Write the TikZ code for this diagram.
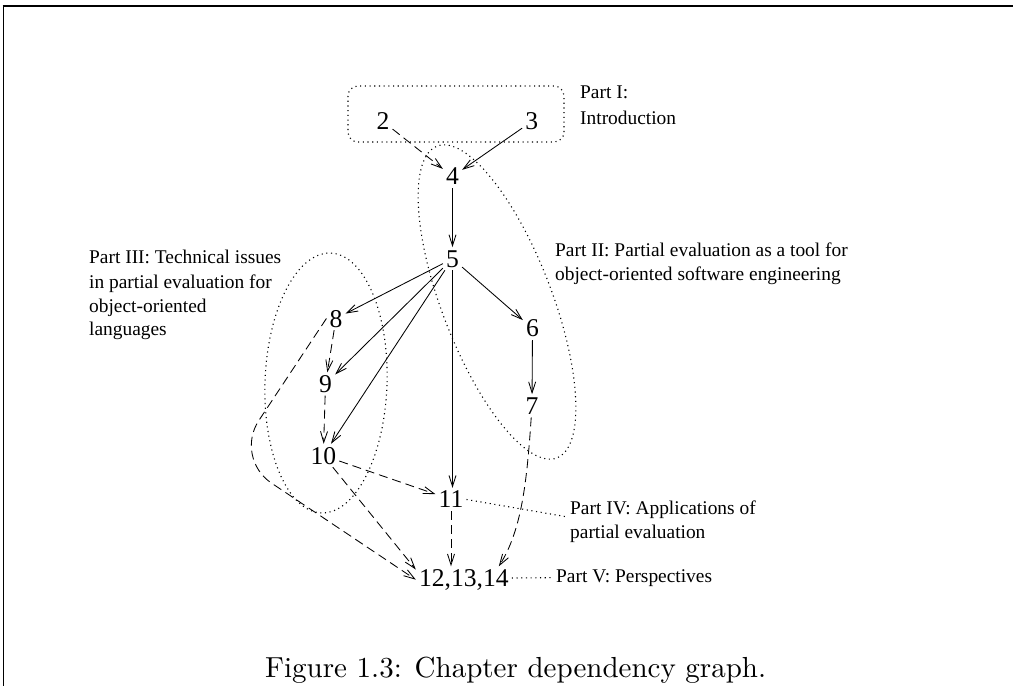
\documentclass[tikz,border=0pt]{standalone}
\usepackage{graphicx}
\usepackage{fontspec}
\newfontfamily\tms{Liberation Serif}
\usetikzlibrary{arrows.meta,calc}
\begin{document}
\begin{tikzpicture}[x=1pt,y=-1pt,
  num/.style={font=\tms\fontsize{25.6}{30}\selectfont, inner sep=3pt, text depth=0pt},
  lbl/.style={font=\tms\fontsize{19.4}{24}\selectfont, inner sep=0pt, anchor=base west},
  link/.style={line width=0.85pt, -{Straight Barb[length=11pt,width=7pt]}},
  dashlink/.style={link, dash pattern=on 9pt off 5pt},
  dotline/.style={line width=1.1pt, dash pattern=on 1.1pt off 3.6pt}]
\useasboundingbox (0,0) rectangle (1013,686);

% page frame
\draw[line width=2pt] (2.5,6) -- (1013,6);
\draw[line width=1.3pt] (3.7,5) -- (3.7,686);

% part groupings
\draw[dotline, rounded corners=10pt] (348,86) rectangle (564,142);
\draw[dotline, rotate around={21:(497,302)}] (497,302) ellipse [x radius=55, y radius=167];
\draw[dotline, rotate around={-2:(326,383)}] (326,383) ellipse [x radius=61, y radius=130];

% chapters
\node[num] (n2) at (383,121.5) {2};
\node[num] (n3) at (531.7,121.5) {3};
\node[num] (n4) at (452.5,176.5) {4};
\node[num] (n5) at (452.5,258.7) {5};
\node[num] (n6) at (532.5,328.5) {6};
\node[num] (n7) at (532,405.8) {7};
\node[num] (n8) at (336,318.5) {8};
\node[num] (n9) at (325.5,384) {9};
\node[num] (n10) at (323.3,455.5) {10};
\node[num] (n11) at (451,499.5) {11};
\node[num] (n12) at (463.8,578) {12,13,14};

% part labels
\node[lbl] (p1a) at (580,98) {Part I:};
\node[lbl] (p1b) at (580,124) {Introduction};
\node[lbl] (p2a) at (555,256) {Part II: Partial evaluation as a tool for};
\node[lbl] (p2b) at (555,280) {object-oriented software engineering};
\node[lbl] (p3a) at (89,263) {Part III: Technical issues};
\node[lbl] (p3b) at (89,288) {in partial evaluation for};
\node[lbl] (p3c) at (89,312) {object-oriented};
\node[lbl] (p3d) at (89,335) {languages};
\node[lbl] (p4a) at (570,514) {Part IV: Applications of};
\node[lbl] (p4b) at (570,538) {partial evaluation};
\node[lbl] (p5) at (556,582) {Part V: Perspectives};

% dependencies
\draw[dashlink] (n2) -- (n4);
\draw[link] (n3) -- (n4);
\draw[link] (n4) -- (n5);
\draw[link] (n5) -- (n8);
\draw[link] (n5) -- (n9);
\draw[link] (n5) -- (n10);
\draw[link] (n5) -- (n6);
\draw[link] (n5.south) -- (n5.south |- n11.north);
\draw[link] (n6) -- (n7);
\draw[dashlink] (n8) -- (n9);
\draw[dashlink] (n9) -- (n10);
\draw[dashlink] (n10) -- (n11);
\draw[dashlink] (n10) -- (n12.170);
\draw[dashlink, rounded corners=45pt] (n8.west) -- (234,458) -- (n12.182);
\draw[dashlink] (n11.south) -- (n11.south |- n12.north);
\draw[dashlink] (n7) .. controls (527,480) and (522,530) .. ($(n12.north)+(35,0)$);

% label leaders
\draw[dotline] (n11.east) -- ($(p4a.base west)+(-2,3)$);
\draw[dotline] (n12.east) -- ($(p5.west)+(-3,0)$);

% caption
\node[inner sep=0pt, anchor=base west] (cap) at (265,677)
  {\scalebox{2.9}{\fontsize{10}{12}\selectfont Figure 1.3: Chapter dependency graph.}};
\end{tikzpicture}
\end{document}
